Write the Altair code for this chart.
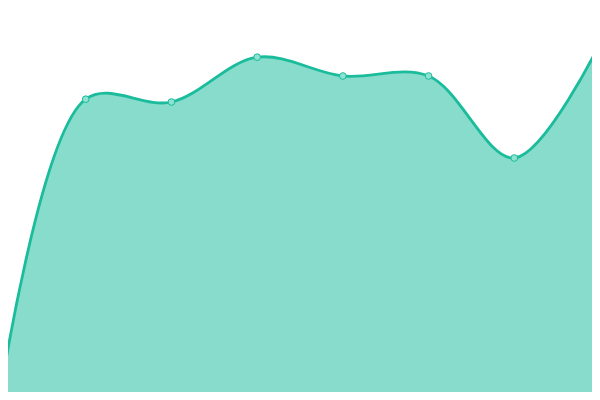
import altair as alt
import pandas as pd

idx = [0, 1, 2, 3, 4, 5, 6, 7]
values = [0.8, 75.2, 74.5, 85.7, 81.0, 81.0, 60.5, 89.2]

df = pd.DataFrame({"i": idx, "v": values})

step = 600 / 7
x = alt.X("i:Q", axis=None, scale=alt.Scale(domain=[8 / step, 592 / step], nice=False, zero=False))
y = alt.Y("v:Q", axis=None, scale=alt.Scale(domain=[2, 98], nice=False, zero=False))

base = alt.Chart(df).encode(x=x, y=y)

area = base.mark_area(interpolate="catmull-rom", color="#1abc9c", opacity=0.52, clip=True)
line = base.mark_line(interpolate="catmull-rom", color="#1abc9c", strokeWidth=2.8, clip=True)
pts = base.mark_point(filled=True, shape="circle", size=45, fill="#8ee2d1", stroke="#1abc9c",
                      strokeWidth=1, opacity=1, clip=True)

chart = (area + line + pts).properties(width=584, height=384, padding=0,
                                       autosize=alt.AutoSizeParams(type="none")).configure_view(stroke=None)

chart.save("out.html", embed_options={"renderer": "svg", "actions": False})
